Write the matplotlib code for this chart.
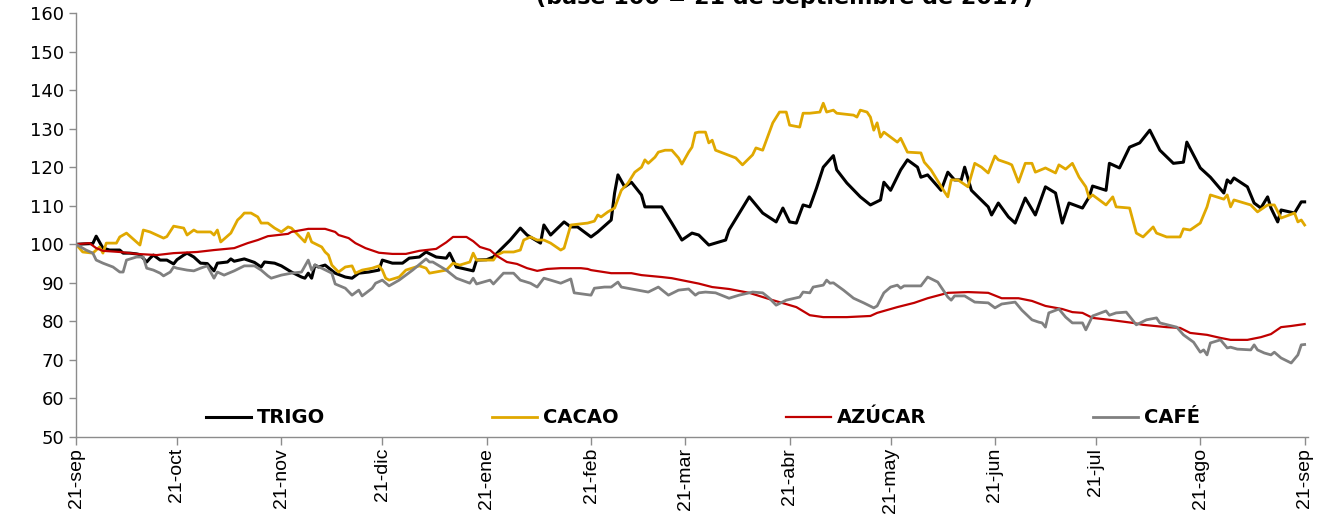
import numpy as np
import matplotlib
matplotlib.use('Agg')
import matplotlib.pyplot as plt

# días desde el 21-sep-2017 y valores (base 100)
dias_trigo = [0, 5, 6, 8, 10, 13, 14, 16, 18, 19, 21, 22, 23, 25, 27, 29, 30, 32, 33, 35,
              37, 39, 41, 42, 45, 46, 47, 50, 53, 55, 56, 59, 61, 64, 67, 68, 69, 70, 71, 72,
              74, 77, 80, 82, 84, 87, 90, 91, 94, 97, 99, 102, 104, 107, 110, 111, 113, 118, 119, 122,
              124, 126, 129, 132, 134, 138, 139, 141, 145, 147, 149, 153, 155, 159, 160, 161, 163, 165, 168, 169,
              174, 177, 180, 183, 185, 188, 193, 194, 200, 204, 208, 210, 212, 214, 216, 218, 220, 222, 225, 226,
              229, 233, 236, 239, 240, 242, 245, 247, 250, 251, 253, 257, 259, 261, 263, 264, 266, 271, 272, 274,
              277, 279, 282, 285, 288, 291, 293, 295, 299, 301, 302, 306, 307, 310, 313, 316, 319, 322, 326, 329,
              330, 334, 337, 341, 342, 343, 344, 348, 350, 352, 354, 355, 357, 358, 362, 364, 365]
trigo = [100, 100.2, 102.1, 99, 98.5, 98.5, 97.7, 97.7, 97.5, 97.3, 95.4, 96.4, 97.2, 95.9, 95.9, 94.9, 96, 97.2, 97.7, 96.7,
         95.1, 95, 93.1, 95.1, 95.4, 96.2, 95.6, 96.2, 95.3, 94.1, 95.4, 95.1, 94.4, 92.8, 91.5, 91.2, 92.5, 91.2, 94.6, 94.1,
         94.6, 92.5, 91.5, 91.2, 92.5, 92.8, 93.3, 95.9, 95.1, 95.1, 96.4, 96.7, 98, 96.7, 96.4, 97.7, 94.1, 93.1, 95.9, 96,
         96.7, 98.5, 101.1, 104.2, 102.4, 100.3, 105, 102.4, 105.8, 104.5, 104.5, 101.9, 103.2, 106.3, 113.3, 118, 114.9, 116.1, 112.8, 109.7,
         109.7, 105.5, 101.1, 102.9, 102.4, 99.8, 101.1, 103.7, 112.3, 108.1, 105.8, 109.4, 105.8, 105.5, 110.2, 109.7, 114.6, 120, 123, 119.3,
         115.9, 112.3, 110.2, 111.5, 116.1, 114, 119.3, 121.9, 120, 117.4, 118, 114, 118.7, 116.7, 116.7, 120, 114, 109.7, 107.6, 110.7,
         107.1, 105.5, 112, 107.6, 114.9, 113.3, 105.5, 110.7, 109.4, 112.3, 115.1, 114, 121, 119.8, 125.2, 126.3, 129.6, 124.4, 121, 121.3,
         126.5, 119.8, 117.4, 113.3, 116.7, 115.9, 117.2, 114.9, 110.7, 109.4, 112.3, 109.4, 105.8, 108.9, 108.1, 111, 111]

dias_cacao = [0, 2, 5, 7, 8, 9, 12, 13, 15, 19, 20, 22, 26, 27, 29, 32, 33, 35, 36, 40,
              41, 42, 43, 46, 48, 49, 50, 52, 54, 55, 57, 59, 61, 63, 64, 66, 68, 69, 70, 73,
              74, 75, 76, 78, 80, 82, 83, 85, 88, 90, 91, 92, 93, 96, 98, 102, 104, 105, 110, 112,
              114, 117, 118, 119, 124, 125, 127, 130, 132, 133, 135, 137, 139, 141, 144, 145, 147, 152, 154, 155,
              156, 158, 160, 162, 164, 166, 168, 169, 170, 172, 173, 175, 177, 179, 180, 182, 183, 184, 185, 187,
              188, 189, 190, 196, 198, 201, 202, 204, 207, 209, 211, 212, 215, 216, 218, 221, 222, 223, 225, 226,
              231, 232, 233, 235, 236, 237, 238, 239, 240, 244, 245, 247, 251, 252, 254, 258, 259, 260, 262, 265,
              267, 269, 271, 273, 274, 277, 278, 280, 282, 284, 285, 288, 291, 292, 294, 296, 298, 300, 301, 302,
              306, 308, 309, 313, 315, 317, 320, 321, 324, 328, 329, 331, 334, 336, 337, 341, 342, 343, 344, 349,
              351, 354, 356, 358, 362, 363, 364, 365]
cacao = [100, 98, 97.7, 99.3, 97.7, 100.3, 100.3, 101.9, 102.9, 99.8, 103.7, 103.2, 101.6, 102, 104.7, 104.2, 102.4, 103.7, 103.2, 103.2,
         102.4, 103.7, 100.6, 102.9, 106.3, 107.1, 108.1, 108.1, 107.1, 105.5, 105.5, 104.2, 103.2, 104.5, 104.2, 102.4, 100.6, 102.9, 100.6, 99.3,
         98, 97.2, 94.6, 92.8, 94.1, 94.4, 92.5, 93.3, 93.8, 94.4, 93.3, 91.2, 90.7, 91.5, 93.3, 94.4, 93.8, 92.5, 93.3, 95.1,
         94.6, 95.4, 97.7, 95.9, 95.9, 97.2, 98, 98, 98.5, 101.1, 101.9, 101.1, 101.1, 100.3, 98.5, 99, 105, 105.5, 106, 107.6,
         107.1, 108.4, 109.4, 114, 115.9, 118.7, 120, 121.9, 121, 122.6, 123.9, 124.4, 124.4, 122.4, 120.8, 123.9, 125.2, 128.9, 129.1, 129.1,
         126.3, 127, 124.4, 122.4, 120.6, 123.2, 125, 124.4, 131.5, 134.3, 134.3, 130.9, 130.4, 134, 134, 134.3, 136.6, 134.3, 134.8, 134,
         133.5, 133, 134.8, 134.3, 133, 129.6, 131.5, 127.8, 129.1, 126.5, 127.5, 123.9, 123.7, 121.3, 119.3, 113.6, 112.3, 116.7, 116.7, 114.9,
         121, 120, 118.5, 122.9, 121.9, 121, 120.6, 116.1, 121, 121, 118.7, 119.8, 118.5, 120.6, 119.5, 121, 117.4, 114.9, 112, 112.8,
         110.2, 112.3, 109.7, 109.4, 102.9, 101.9, 104.5, 102.9, 101.9, 101.9, 104, 103.7, 105.5, 109.7, 112.8, 111.7, 112.8, 109.7, 111.5, 110.2,
         108.4, 110.2, 110.2, 106.8, 108.1, 105.8, 106.3, 105]

dias_azucar = [0, 4, 6, 8, 13, 18, 24, 29, 36, 41, 47, 51, 54, 57, 63, 64, 69, 74, 77, 78,
               81, 83, 86, 90, 94, 98, 102, 107, 110, 112, 116, 118, 120, 123, 125, 128, 131, 134, 137, 140,
               144, 150, 152, 153, 159, 165, 168, 174, 177, 181, 185, 189, 194, 200, 207, 214, 218, 222, 229, 236,
               238, 242, 244, 249, 253, 259, 265, 271, 275, 280, 284, 288, 293, 296, 299, 302, 307, 314, 317, 324,
               328, 331, 336, 340, 343, 348, 352, 355, 358, 361, 365]
azucar = [100, 100.3, 99, 98.3, 98, 97.5, 97.2, 97.7, 98, 98.5, 99, 100.3, 101.1, 102.1, 102.7, 103.2, 104, 104, 103.2, 102.4,
          101.6, 100.3, 99, 97.8, 97.5, 97.5, 98.3, 98.8, 100.5, 101.9, 101.9, 100.8, 99.3, 98.5, 97, 95.4, 94.9, 93.8, 93.1, 93.6,
          93.8, 93.8, 93.6, 93.3, 92.5, 92.5, 92, 91.5, 91.2, 90.5, 89.8, 88.9, 88.4, 87.4, 85.5, 83.7, 81.6, 81.1, 81.1, 81.4,
          82.2, 83.2, 83.7, 84.8, 86, 87.4, 87.6, 87.4, 86, 86, 85.3, 84, 83.2, 82.4, 82.2, 80.9, 80.4, 79.6, 79.1, 78.5,
          78.3, 77, 76.5, 75.7, 75.2, 75.2, 75.9, 76.7, 78.5, 78.8, 79.3]

dias_cafe = [0, 3, 5, 6, 8, 11, 13, 14, 15, 18, 20, 21, 23, 25, 26, 28, 29, 30, 33, 35,
             37, 39, 41, 42, 44, 47, 50, 53, 55, 57, 58, 61, 64, 67, 69, 70, 71, 73, 76, 77,
             80, 82, 84, 85, 88, 89, 91, 93, 96, 100, 104, 105, 106, 110, 113, 117, 118, 119, 123, 124,
             127, 130, 132, 135, 137, 139, 141, 144, 147, 148, 153, 154, 157, 159, 161, 162, 167, 170, 173, 176,
             179, 182, 184, 185, 187, 190, 194, 197, 201, 204, 206, 208, 211, 215, 216, 218, 219, 222, 223, 224,
             225, 228, 231, 234, 237, 238, 240, 242, 244, 245, 246, 251, 253, 256, 259, 260, 261, 264, 267, 271,
             273, 275, 279, 281, 284, 286, 287, 288, 289, 292, 294, 296, 299, 300, 302, 306, 307, 309, 312, 315,
             318, 321, 322, 327, 329, 332, 334, 335, 336, 337, 340, 342, 343, 345, 349, 350, 351, 353, 355, 356,
             358, 361, 363, 364, 365]
cafe = [100, 98.5, 97.7, 95.9, 95.1, 94.1, 92.8, 92.8, 95.9, 96.7, 96.7, 93.8, 93.3, 92.5, 91.8, 92.8, 94.1, 93.8, 93.3, 93.1,
        93.8, 94.4, 91.2, 92.8, 92, 93.1, 94.4, 94.4, 93.3, 91.8, 91.2, 92, 92.5, 92.8, 95.9, 93.3, 94.6, 93.8, 92.5, 89.7,
        88.6, 86.8, 88.1, 86.6, 88.6, 89.9, 90.7, 89.2, 90.7, 93.3, 96.2, 95.4, 95.4, 93.3, 91.2, 89.9, 91.2, 89.7, 90.7, 89.7,
        92.5, 92.5, 90.7, 89.9, 88.9, 91.2, 90.7, 89.9, 91, 87.4, 86.8, 88.6, 88.9, 88.9, 90.2, 88.9, 88.1, 87.6, 88.9, 86.8,
        88.1, 88.4, 86.8, 87.4, 87.6, 87.4, 86, 86.8, 87.6, 87.4, 86, 84.2, 85.5, 86.3, 87.6, 87.4, 88.9, 89.4, 90.7, 89.9,
        90, 88.1, 86, 84.8, 83.5, 84, 87.4, 88.9, 89.4, 88.6, 89.2, 89.2, 91.5, 90.2, 86.3, 85.5, 86.6, 86.6, 85, 84.8,
        83.5, 84.5, 85, 82.9, 80.4, 79.8, 79.6, 78.5, 82.2, 83.2, 81.1, 79.6, 79.6, 77.8, 81.4, 82.7, 81.6, 82.2, 82.4, 79.1,
        80.4, 80.9, 79.6, 78.5, 76.5, 74.6, 72, 72.6, 71.3, 74.4, 75.2, 73.1, 73.3, 72.8, 72.6, 73.9, 72.6, 71.8, 71.3, 72,
        70.5, 69.2, 71.3, 73.9, 74]

meses = ['sep', 'oct', 'nov', 'dic', 'ene', 'feb', 'mar', 'abr', 'may', 'jun', 'jul', 'ago', 'sep']

# posiciones de los ticks: día 21 de cada mes
base = np.datetime64('2017-09-21')
fechas_ticks = np.arange('2017-09', '2018-10', dtype='datetime64[M]').astype('datetime64[D]') + 20
dias_ticks = (fechas_ticks - base).astype(int)

fig = plt.figure(figsize=(13.34, 5.16), dpi=100)
ax = fig.add_axes([76 / 1334, 1 - 437 / 516, 1232 / 1334, 424 / 516])

ax.plot(dias_trigo, trigo, color='black', lw=2.2, label='TRIGO')
ax.plot(dias_cacao, cacao, color='#E0A800', lw=2.0, label='CACAO')
ax.plot(dias_azucar, azucar, color='#C00000', lw=1.6, label='AZÚCAR')
ax.plot(dias_cafe, cafe, color='#808080', lw=2.0, label='CAFÉ')

ax.set_xlim(0, 366)
ax.set_ylim(50, 160)
ax.set_yticks(np.arange(50, 161, 10))
ax.set_xticks(dias_ticks)
ax.set_xticklabels(['21-' + m for m in meses], rotation=90,
                   fontsize=14, family=['Liberation Sans', 'DejaVu Sans'])
for lab in ax.get_yticklabels():
    lab.set_fontsize(13)

for s in ['top', 'right']:
    ax.spines[s].set_visible(False)
for s in ['left', 'bottom']:
    ax.spines[s].set_color('#8c8c8c')
    ax.spines[s].set_linewidth(1.0)
ax.tick_params(axis='both', colors='#8c8c8c', labelcolor='black', length=5, width=1)
ax.tick_params(axis='x', length=6, pad=2)

leg = ax.legend(loc='center', bbox_to_anchor=(0.509, 0.045), ncol=4, frameon=False,
                prop={'weight': 'bold', 'size': 14}, handlelength=2.3, handletextpad=0.3,
                columnspacing=8.6)

fig.text(0.588, 0.984, '(base 100 = 21 de septiembre de 2017)', ha='center', va='bottom',
         fontsize=16, fontweight='bold')

fig.savefig('out.png', dpi=100)
